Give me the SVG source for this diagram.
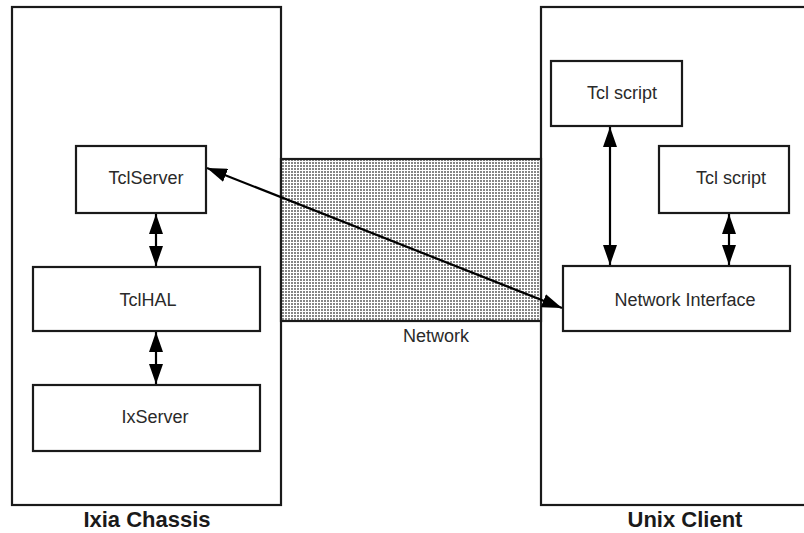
<svg xmlns="http://www.w3.org/2000/svg" width="804" height="533" viewBox="0 0 804 533">
  <defs>
    <pattern id="dots" width="3" height="3" patternUnits="userSpaceOnUse">
      <rect width="3" height="3" fill="#ffffff"/>
      <rect width="2" height="2" fill="#858585"/>
    </pattern>
    <marker id="ah" viewBox="0 0 20 14" refX="20" refY="7" markerWidth="20" markerHeight="14" markerUnits="userSpaceOnUse" orient="auto-start-reverse">
      <path d="M0,0 L20,7 L0,14 z" fill="#000"/>
    </marker>
  </defs>
  <style>
    .box { fill: #ffffff; stroke: #1a1a1a; stroke-width: 2.2; }
    .lbl { font-family: "Liberation Sans", Arial, sans-serif; font-size: 18px; fill: #2a2a2a; text-anchor: middle; }
    .title { font-family: "Liberation Sans", Arial, sans-serif; font-size: 22px; font-weight: bold; fill: #1a1a1a; text-anchor: middle; }
    .conn { stroke: #000; stroke-width: 2.2; fill: none; marker-start: url(#ah); marker-end: url(#ah); }
  </style>
  <rect width="804" height="533" fill="#ffffff"/>

  <g id="ixia-chassis">
    <rect class="box" x="12" y="7" width="269" height="498"/>
    <text class="title" x="147" y="527">Ixia Chassis</text>
  </g>

  <g id="unix-client">
    <rect class="box" x="541" y="7" width="280" height="498"/>
    <text class="title" x="685" y="527">Unix Client</text>
  </g>

  <g id="network">
    <rect x="281" y="159" width="260" height="162" fill="url(#dots)" stroke="#1a1a1a" stroke-width="2.2"/>
    <text class="lbl" x="436" y="342">Network</text>
  </g>

  <g id="tclserver">
    <rect class="box" x="76" y="146" width="130" height="67"/>
    <text class="lbl" x="146" y="184">TclServer</text>
  </g>

  <g id="tclhal">
    <rect class="box" x="33" y="267" width="227" height="64"/>
    <text class="lbl" x="148" y="306">TclHAL</text>
  </g>

  <g id="ixserver">
    <rect class="box" x="33" y="385" width="227" height="66"/>
    <text class="lbl" x="155" y="423">IxServer</text>
  </g>

  <g id="tcl-script-1">
    <rect class="box" x="551" y="61" width="131" height="65"/>
    <text class="lbl" x="622" y="99">Tcl script</text>
  </g>

  <g id="tcl-script-2">
    <rect class="box" x="659" y="146" width="130" height="67"/>
    <text class="lbl" x="731" y="184">Tcl script</text>
  </g>

  <g id="network-interface">
    <rect class="box" x="563" y="266" width="227" height="65"/>
    <text class="lbl" x="685" y="306">Network Interface</text>
  </g>

  <g id="connectors">
    <line class="conn" x1="156" y1="214" x2="156" y2="266"/>
    <line class="conn" x1="156" y1="332" x2="156" y2="384"/>
    <line class="conn" x1="610" y1="127" x2="610" y2="265"/>
    <line class="conn" x1="729" y1="214" x2="729" y2="265"/>
    <line class="conn" x1="207" y1="168" x2="562" y2="308"/>
  </g>
</svg>
